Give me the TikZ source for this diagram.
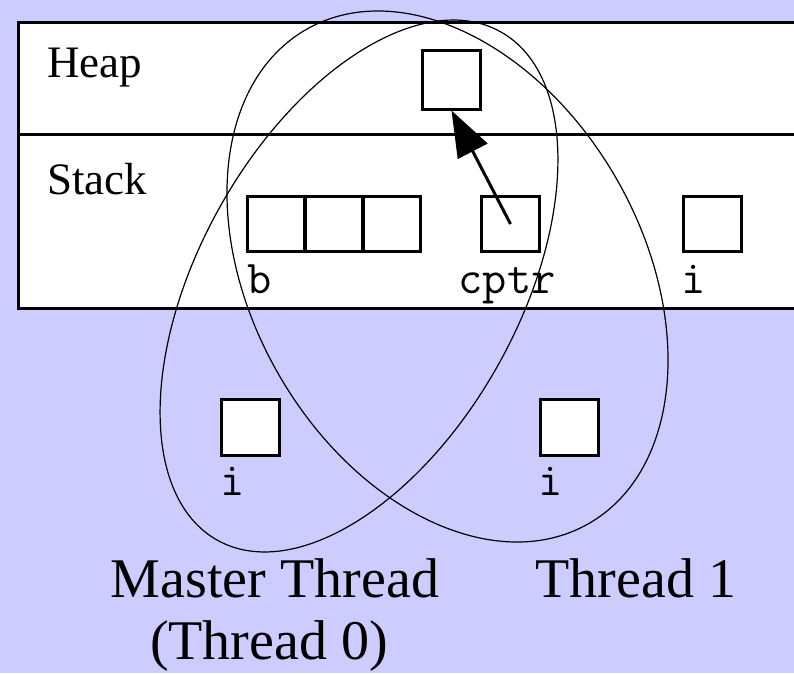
\documentclass[tikz,border=0pt]{standalone}
\usepackage{fontspec}
\setmainfont{Liberation Serif}
\usetikzlibrary{arrows.meta}
\definecolor{lavender}{RGB}{204,204,255}
\begin{document}
\begin{tikzpicture}[x=1pt,y=1pt,
    cell/.style={draw=black, fill=white, line width=3pt, inner sep=0pt,
                 minimum width=58pt, minimum height=55pt},
    seglabel/.style={font=\fontsize{45}{50}\selectfont, anchor=base west, inner sep=0pt},
    varlabel/.style={font=\ttfamily\fontsize{47}{50}\selectfont, anchor=base, inner sep=0pt},
    threadlabel/.style={font=\fontsize{56}{60}\selectfont, anchor=base, inner sep=0pt},
    region/.style={draw=black, line width=1.2pt}]
  % page background
  \fill[lavender] (0,0) rectangle (794,-673);
  \useasboundingbox (0,0) rectangle (794,-673);

  % shared memory: heap and stack segments
  \begin{scope}
    \clip (0,0) rectangle (794,-673);
    \draw[line width=3pt, fill=white] (18,-22) rectangle (810,-308);
    \draw[line width=3pt] (18,-134) -- (810,-134);
  \end{scope}
  \node[seglabel] (heaplbl) at (47,-77) {Heap};
  \node[seglabel] (stacklbl) at (47,-194) {Stack};

  % heap object
  \node[cell, minimum height=59pt] (heap) at (451.5,-79.5) {};

  % stack variables
  \node[cell, minimum width=57pt] (b1) at (276,-224) {};
  \node[cell, minimum width=57pt] (b2) at (334,-224) {};
  \node[cell, minimum width=57pt] (b3) at (392,-224) {};
  \node[cell] (cptr) at (510.5,-224) {};
  \node[cell] (ishared) at (712.5,-224) {};
  \node[varlabel] (blbl) at (260,-293) {b};
  \node[varlabel] (cptrlbl) at (507,-293) {cptr};
  \node[varlabel] (isharedlbl) at (694,-293) {i};

  % pointer from cptr into the heap
  \draw[line width=3pt, -{Triangle[length=46pt,width=33pt]}] (cptr.center) -- (heap.south);

  % private variables of each thread
  \node[cell, minimum height=56pt] (imaster) at (250.5,-427) {};
  \node[cell, minimum height=56pt] (ithread) at (569.5,-427) {};
  \node[varlabel] (imasterlbl) at (233,-495) {i};
  \node[varlabel] (ithreadlbl) at (551,-495) {i};

  % thread scopes
  \draw[region, rotate around={60.9:(359,-286)}] (359,-286) ellipse [x radius=291, y radius=160];
  \draw[region, rotate around={-60.3:(447.5,-276.5)}] (447.5,-276.5) ellipse [x radius=284.6, y radius=195.2];

  % thread names
  \node[threadlabel] (master) at (275,-597) {Master Thread};
  \node[threadlabel] (master0) at (269,-659) {(Thread 0)};
  \node[threadlabel] (thread1) at (636,-597) {Thread 1};
\end{tikzpicture}
\end{document}
